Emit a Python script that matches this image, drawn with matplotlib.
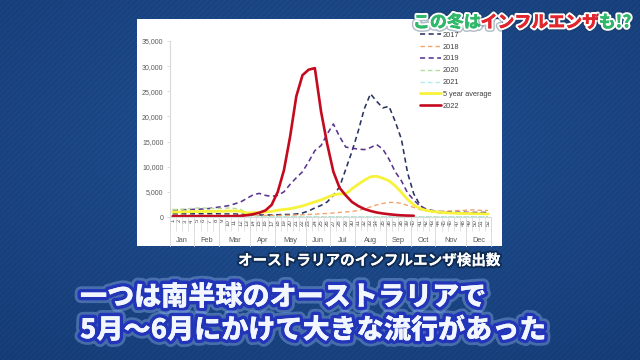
import numpy as np
import matplotlib
matplotlib.use("Agg")
import matplotlib.pyplot as plt
import matplotlib.patheffects as pe
from matplotlib.patches import Rectangle
from matplotlib.lines import Line2D
from matplotlib.ticker import FuncFormatter
import matplotlib.transforms as mtrans

# ---------------- data ----------------
weeks = list(range(1, 53))
months = ["Jan", "Feb", "Mar", "Apr", "May", "Jun", "Jul", "Aug", "Sep", "Oct", "Nov", "Dec"]
month_weeks = [4, 4, 5, 4, 5, 4, 4, 5, 4, 4, 5, 4]

y2017 = [600, 600, 620, 620, 650, 650, 650, 650, 600, 600, 600, 550, 500,
         450, 400, 400, 400, 450, 500, 500, 600, 800, 1200, 1800, 2300, 3000,
         4300, 6000, 9500, 13000, 17000, 21500, 24500, 23000, 21700, 22000,
         19000, 15500, 8800, 4600, 2400, 1300, 1100, 900, 800, 800, 800, 800,
         800, 750, 750, 700]
y2018 = [350, 350, 350, 350, 350, 350, 350, 350, 350, 350, 350, 350, 320,
         300, 300, 300, 300, 300, 320, 350, 400, 450, 500, 550, 650, 700,
         800, 900, 1000, 1100, 1300, 1600, 2000, 2400, 2700, 2900, 2900, 2700,
         2300, 1900, 1500, 1200, 1100, 1100, 1200, 1200, 1300, 1300, 1400,
         1400, 1300, 1300]
y2019 = [1400, 1400, 1450, 1500, 1550, 1600, 1700, 1900, 2050, 2250, 2600,
         3000, 3700, 4400, 4700, 4300, 4100, 4300, 5000, 6500, 7800, 9000,
         11000, 13200, 14200, 16500, 18500, 16000, 13900, 13700, 13500, 13400,
         13800, 14400, 13500, 11500, 9000, 7200, 4800, 3400, 2200, 1600, 1300,
         1100, 1000, 1000, 950, 950, 900, 900, 900, 900]
y2020 = [1500, 1500, 1600, 1700, 1800, 1800, 1700, 1700, 1700, 1800, 1700,
         1500, 800, 300, 100, 60, 50, 50, 50, 50, 50, 50, 50, 50, 50, 50, 50,
         50, 50, 50, 50, 50, 50, 50, 50, 50, 50, 50, 50, 50, 50, 50, 50, 50,
         50, 50, 50, 50, 50, 50, 50, 50]
y2021 = [80, 80, 80, 80, 70, 70, 70, 60, 60, 60, 60, 60, 60, 60, 60, 60, 60,
         60, 60, 60, 60, 60, 60, 60, 60, 60, 60, 60, 60, 60, 60, 60, 60, 60,
         60, 60, 60, 60, 60, 60, 60, 60, 60, 60, 60, 60, 60, 60, 60, 60, 60, 60]
y5avg = [1000, 1000, 1050, 1050, 1100, 1100, 1100, 1150, 1150, 1200, 1200,
         1150, 800, 850, 900, 1000, 1100, 1350, 1500, 1650, 1900, 2200, 2600,
         3000, 3400, 3900, 4400, 4600, 4600, 5600, 6500, 7300, 8000, 8100,
         7700, 7200, 6200, 4900, 3500, 2400, 1700, 1300, 1100, 950, 850, 800,
         750, 700, 700, 650, 650, 600]
y2022 = [150, 150, 150, 150, 150, 150, 150, 150, 150, 150, 170, 220, 350,
         550, 850, 1300, 2400, 5000, 9300, 16000, 24000, 28200, 29300, 29600,
         21000, 14500, 9000, 5800, 4300, 3000, 2200, 1600, 1200, 900, 700, 550,
         420, 330, 280, 250]

series = [
    ("2017", y2017, "#27345f", (0, (3.2, 2.2)), 1.15),
    ("2018", y2018, "#f2a46e", (0, (3.2, 2.2)), 1.0),
    ("2019", y2019, "#5a3590", (0, (3.2, 2.2)), 1.15),
    ("2020", y2020, "#b7dc9a", (0, (3.2, 2.2)), 1.0),
    ("2021", y2021, "#b0ecec", (0, (3.2, 2.2)), 1.0),
    ("5 year average", y5avg, "#f7f23a", "-", 2.0),
    ("2022", y2022, "#c40a1e", "-", 1.9),
]

title_parts = [("この冬は", "#30b86a"), ("インフルエンザ", "#e2262e"), ("も!?", "#30b86a")]
caption = "オーストラリアのインフルエンザ検出数"
line1 = "一つは南半球のオーストラリアで"
line2 = "5月～6月にかけて大きな流行があった"

W, H = 640, 360
fig = plt.figure(figsize=(6.4, 3.6), dpi=100)

# ---------------- background ----------------
bg = fig.add_axes([0, 0, 1, 1])
yy, xx = np.mgrid[0:H, 0:W]
cx, cy = W * 0.5, H * 0.4
r = np.sqrt(((xx - cx) / W) ** 2 + ((yy - cy) / H) ** 2)
t = np.clip(r / 0.8, 0, 1)
top = np.array([32, 80, 146]) / 255.0
edge = np.array([22, 60, 118]) / 255.0
img = top[None, None, :] * (1 - t[..., None]) + edge[None, None, :] * t[..., None]
weave = 1 + 0.07 * np.sin(xx * 2.2) * np.sin(yy * 2.2) + 0.04 * np.sin((xx + yy) * 1.1)
img = np.clip(img * weave[..., None], 0, 1)
bg.imshow(img, extent=[0, W, H, 0], aspect="auto", interpolation="bilinear")
bg.set_xlim(0, W)
bg.set_ylim(H, 0)
bg.axis("off")
bg.add_patch(Rectangle((137, 19), 365, 227, facecolor="white", edgecolor="none"))

# ---------------- chart ----------------
x0, x1 = 169.6, 491.0
yb, yt = 217.0, 41.0
ax = fig.add_axes([x0 / W, 1 - yb / H, (x1 - x0) / W, (yb - yt) / H])
ax.patch.set_visible(False)
ax.set_xlim(0.5, 52.5)
ax.set_ylim(0, 35000)

handles = []
for name, vals, col, ls, lw in series:
    xs = weeks[:len(vals)]
    ln, = ax.plot(xs, vals, color=col, linestyle=ls, linewidth=lw,
                  solid_capstyle="round", dash_capstyle="butt", label=name)
    handles.append(ln)

for sp in ["top", "right"]:
    ax.spines[sp].set_visible(False)
for sp in ["left", "bottom"]:
    ax.spines[sp].set_color("#d9d9d9")
    ax.spines[sp].set_linewidth(0.8)

lab_font = ["Liberation Sans", "DejaVu Sans"]
ax.set_yticks(range(0, 35001, 5000))
ax.yaxis.set_major_formatter(FuncFormatter(lambda v, p: f"{int(v):,}"))
ax.tick_params(axis="y", length=2.5, width=0.6, color="#d9d9d9", pad=2,
               labelsize=5, labelcolor="#595959")
for lab in ax.get_yticklabels():
    lab.set_family(lab_font)

ax.set_xticks(weeks)
ax.set_xticklabels([str(w) for w in weeks], rotation=90, fontsize=4.4,
                   color="#505050", family=lab_font)
ax.tick_params(axis="x", which="major", length=0, pad=1.5)
ax.set_xticks(np.arange(0.5, 53, 1.0), minor=True)
ax.tick_params(axis="x", which="minor", length=10, width=0.5, color="#d9d9d9")

blend = mtrans.blended_transform_factory(ax.transData, ax.transAxes)
ext = (246 - yb) / (yb - yt)
bounds = [0.5]
for n in month_weeks:
    bounds.append(bounds[-1] + n)
for b in bounds:
    ax.add_line(Line2D([b, b], [0, -ext], transform=blend, color="#d9d9d9",
                       linewidth=0.6, clip_on=False))
mlab_y = -(240 - yb) / (yb - yt)
for i, m in enumerate(months):
    c = (bounds[i] + bounds[i + 1]) / 2
    ax.text(c, mlab_y, m, transform=blend, ha="center", va="center",
            fontsize=5.3, color="#595959", family=lab_font)

leg = ax.legend(handles=handles, loc="upper left",
                bbox_to_anchor=(420 / W, 1 - 31.5 / H), bbox_transform=fig.transFigure,
                frameon=False, fontsize=5.3, handlelength=2.8, handletextpad=0.3,
                labelspacing=0.64, borderpad=0, borderaxespad=0)
for txt in leg.get_texts():
    txt.set_color("#404040")
    txt.set_family(lab_font)

# ---------------- texts ----------------
jp = ["Noto Sans CJK JP", "DejaVu Sans"]

fig.canvas.draw()
renderer = fig.canvas.get_renderer()
xpos = 413
for txt, col in title_parts:
    tt = bg.text(xpos, 22.5, txt, color=col, fontsize=12.2, fontweight="heavy",
                 family=jp, ha="left", va="center", zorder=5,
                 path_effects=[pe.withStroke(linewidth=5, foreground="#1a3a5a", alpha=0.35),
                               pe.withStroke(linewidth=3, foreground="white"),
                               pe.Normal()])
    bb = tt.get_window_extent(renderer=renderer)
    xpos += bb.width * (W / fig.bbox.width)

bg.text(238, 260, caption, color="white", fontsize=10.5, fontweight="bold",
        family=jp, ha="left", va="center",
        path_effects=[pe.withStroke(linewidth=3, foreground="#0d2545", alpha=0.75),
                      pe.Normal()])

for s, yv in [(line1, 297), (line2, 330)]:
    bg.text(80, yv, s, color="#f2f6ff", fontsize=19.5, fontweight="heavy",
            family=jp, ha="left", va="center",
            path_effects=[pe.withStroke(linewidth=9, foreground="#9fc3ff", alpha=0.35),
                          pe.withStroke(linewidth=5, foreground="#2234b8"),
                          pe.Normal()])

fig.savefig("out.png", dpi=100)
